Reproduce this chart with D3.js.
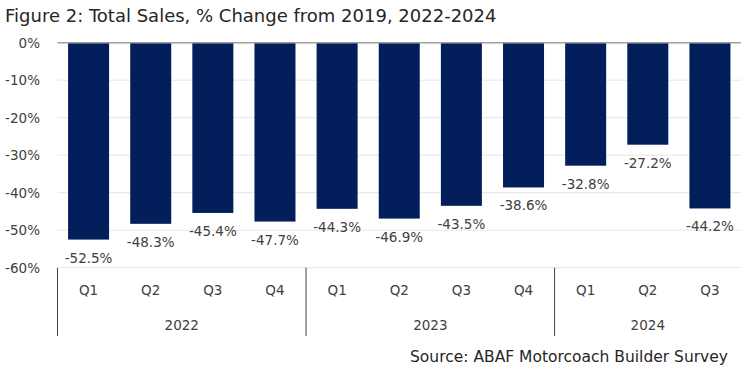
<!DOCTYPE html>
<html><head><meta charset="utf-8">
<script src="https://cdn.jsdelivr.net/npm/d3@7"></script>
<style>body{margin:0;background:#fff}svg{display:block;font-family:"DejaVu Sans",sans-serif}</style>
</head><body><svg id="c" width="750" height="380"></svg>
<script>
const quarters = ["Q1","Q2","Q3","Q4","Q1","Q2","Q3","Q4","Q1","Q2","Q3"];
const years = ["2022","2023","2024"];
const yearOf = [0,0,0,0,1,1,1,1,2,2,2];
const values = [-52.5,-48.3,-45.4,-47.7,-44.3,-46.9,-43.5,-38.6,-32.8,-27.2,-44.2];
const yTicks = [0,-10,-20,-30,-40,-50,-60];
const title = "Figure 2: Total Sales, % Change from 2019, 2022-2024";
const source = "Source: ABAF Motorcoach Builder Survey";

const svg = d3.select("#c");
const x = d3.scaleBand().domain(d3.range(values.length)).range([57.5, 741]).paddingInner(0.34).paddingOuter(0.17);
const y = d3.scaleLinear().domain([0,-60]).range([42.7, 267.7]);
const txt = "#404040";
const fs = 13.5;

svg.append("text").attr("x",5).attr("y",22).attr("font-size",18).attr("fill","#262626").text(title);

// gridlines
svg.append("g").selectAll("line").data(yTicks.filter(d=>d!==0)).join("line")
  .attr("x1",57.5).attr("x2",741).attr("y1",d=>y(d)).attr("y2",d=>y(d))
  .attr("stroke","#e6e6e6").attr("stroke-width",1);

// y axis labels
const yAxis = d3.axisLeft(y).tickValues(yTicks).tickFormat(d=>d+"%").tickSize(0).tickPadding(0);
const ga = svg.append("g").attr("transform","translate(40,0)").call(yAxis);
ga.select(".domain").remove();
ga.selectAll("text").attr("font-size",fs).attr("fill",txt).attr("font-family","'DejaVu Sans',sans-serif");

// bars
svg.append("g").selectAll("rect").data(values).join("rect")
  .attr("x",(d,i)=>x(i)).attr("width",x.bandwidth())
  .attr("y",y(0)).attr("height",d=>y(d)-y(0))
  .attr("fill","#031f5b");

// zero line
svg.append("line").attr("x1",57.5).attr("x2",741).attr("y1",y(0)).attr("y2",y(0))
  .attr("stroke","#a0a0a0").attr("stroke-width",1.5);

// value labels
svg.append("g").selectAll("text").data(values).join("text")
  .attr("x",(d,i)=>x(i)+x.bandwidth()/2).attr("y",d=>y(d)+23)
  .attr("text-anchor","middle").attr("font-size",fs).attr("fill",txt)
  .text(d=>d.toFixed(1)+"%");

// category labels
svg.append("g").selectAll("text").data(quarters).join("text")
  .attr("x",(d,i)=>x(i)+x.bandwidth()/2).attr("y",295)
  .attr("text-anchor","middle").attr("font-size",fs).attr("fill",txt).text(d=>d);

// year labels
years.forEach((yr,k)=>{
  const idx = yearOf.map((v,i)=>v===k?i:-1).filter(i=>i>=0);
  const cx = (x(idx[0]) + x(idx[idx.length-1]) + x.bandwidth())/2;
  svg.append("text").attr("x",cx).attr("y",330).attr("text-anchor","middle")
    .attr("font-size",fs).attr("fill",txt).text(yr);
});
// separators
const seps = [0];
for(let i=1;i<values.length;i++) if(yearOf[i]!==yearOf[i-1]) seps.push(i);
svg.append("g").selectAll("line").data(seps).join("line")
  .attr("x1",i=>x(i)-x.step()*x.paddingOuter()).attr("x2",i=>x(i)-x.step()*x.paddingOuter())
  .attr("y1",267.7).attr("y2",336).attr("stroke","#404040").attr("stroke-width",1);

svg.append("text").attr("x",728).attr("y",362).attr("text-anchor","end")
  .attr("font-size",15.5).attr("fill","#262626").text(source);
</script></body></html>
